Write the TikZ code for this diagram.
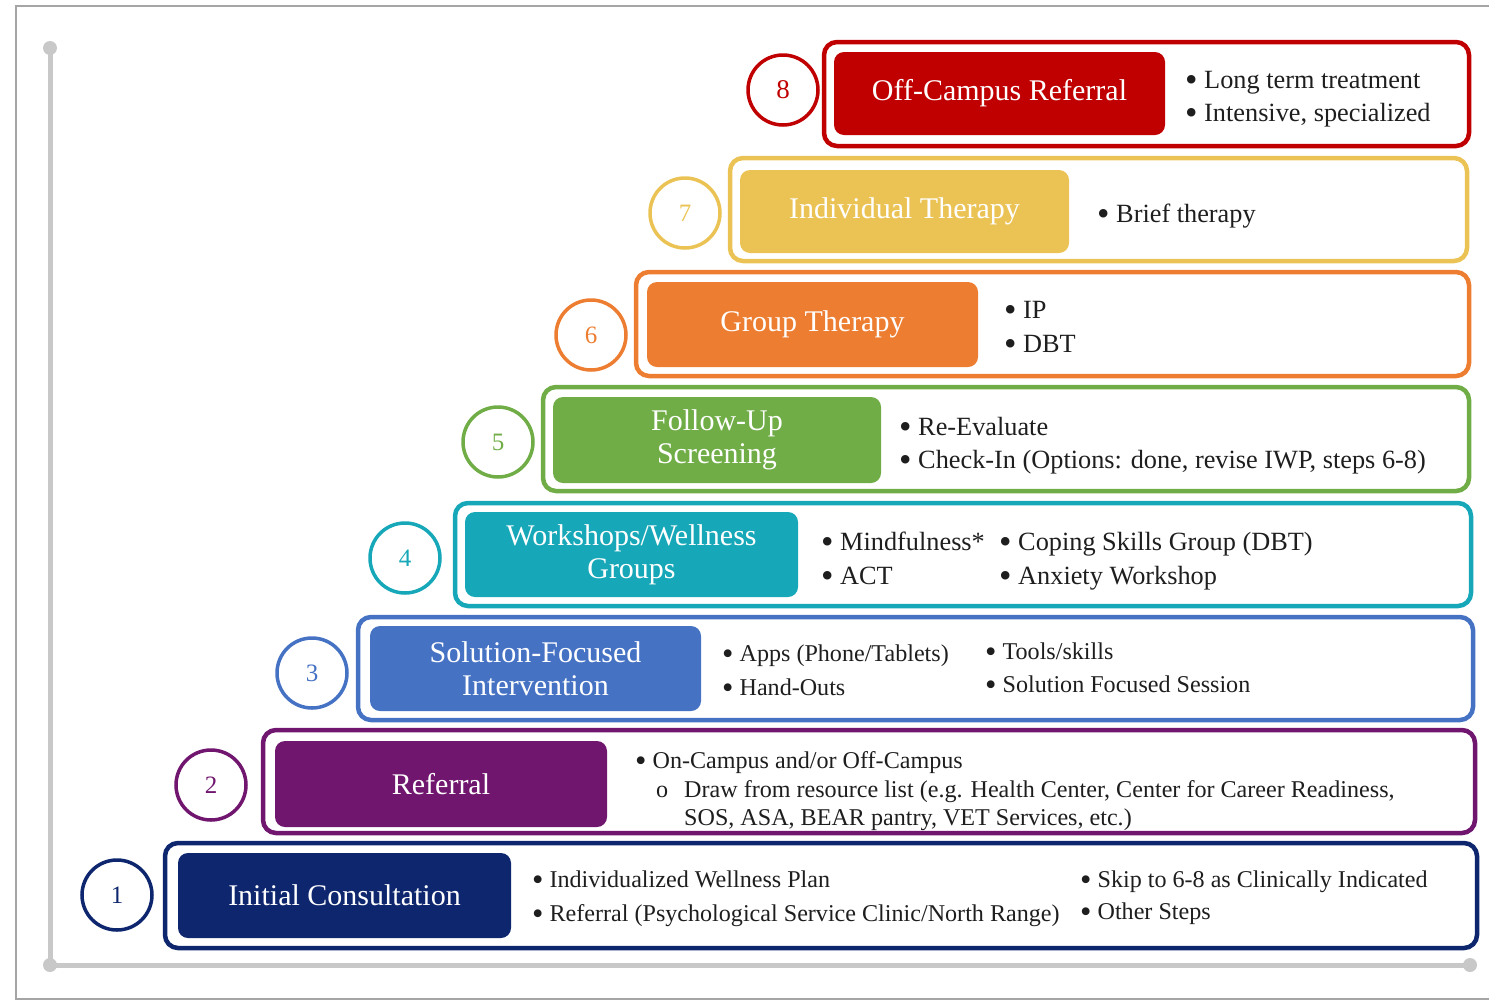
\documentclass[tikz,border=0pt]{standalone}
\usepackage{fontspec}
\setmainfont{Liberation Serif}
\usetikzlibrary{fit}
\definecolor{cnavy}{RGB}{14,38,110}
\definecolor{cpurple}{RGB}{112,22,110}
\definecolor{cblue}{RGB}{70,114,196}
\definecolor{cteal}{RGB}{22,168,184}
\definecolor{cgreen}{RGB}{112,173,71}
\definecolor{corange}{RGB}{237,125,49}
\definecolor{cyellow}{RGB}{235,195,85}
\definecolor{cred}{RGB}{192,0,0}
\definecolor{caxis}{RGB}{200,200,200}
\definecolor{cframe}{RGB}{165,165,165}
\definecolor{ctext}{RGB}{30,30,30}
\newcommand{\bul}{\raisebox{-0.13em}{\scalebox{1.35}{\textbullet}}\ }
\tikzset{
 outerbox/.style={draw=#1, line width=4.5pt, rounded corners=13pt, inner sep=0pt},
 titlebox/.style={fill=#1, rounded corners=10pt, text=white, align=center, font=\fontsize{30}{33}\selectfont, inner sep=0pt},
 numcircle/.style={draw=#1, circle, line width=3.5pt, minimum size=70pt, inner sep=0pt, text=#1, font=\fontsize{25}{25}\selectfont},
 bulletA/.style={anchor=west, inner sep=0pt, text=ctext, text height=17pt, text depth=0pt, font=\fontsize{24.1}{26}\selectfont},
 bulletB/.style={anchor=west, inner sep=0pt, text=ctext, text height=18pt, text depth=0pt, font=\fontsize{26.3}{28}\selectfont},
 axisdot/.style={circle, fill=caxis, minimum size=14pt, inner sep=0pt},
}
\begin{document}
\begin{tikzpicture}[x=1pt,y=-1pt]
\useasboundingbox (0,0) rectangle (1489,1002);
% frame
\draw[cframe, line width=1.5pt] (1489,6) -- (16,6) -- (16,999) -- (1489,999);
% axis
\coordinate (atop) at (50,48);
\coordinate (aorig) at (50,965);
\coordinate (aright) at (1470,965);
\draw[caxis, line width=5pt] (atop) -- (aorig) -- (aright);
\node[axisdot] (dtop) at (atop) {};
\node[axisdot] (dorig) at (aorig) {};
\node[axisdot] (dright) at (aright) {};

% Row 1
\node[outerbox=cnavy, fit={(165,843) (1477,948)}] (o1) {};
\node[numcircle=cnavy] (n1) at (117,895) {1};
\node[titlebox=cnavy, minimum width=333pt, minimum height=85pt] (t1) at (344.5,895.5) {Initial Consultation};
\node[bulletA] (b11) at (532,879) {\bul Individualized Wellness Plan};
\node[bulletA] (b12) at (532,913) {\bul Referral (Psychological Service Clinic/North Range)};
\node[bulletA] (b13) at (1080,879) {\bul Skip to 6-8 as Clinically Indicated};
\node[bulletA] (b14) at (1080,911) {\bul Other Steps};

% Row 2
\node[outerbox=cpurple, fit={(263,730) (1475,833)}] (o2) {};
\node[numcircle=cpurple] (n2) at (211,785) {2};
\node[titlebox=cpurple, minimum width=332pt, minimum height=86pt] (t2) at (441,784) {Referral};
\node[bulletA] (b21) at (635,760) {\bul On-Campus and/or Off-Campus};
\node[bulletA] (b22o) at (656,789) {o};
\node[bulletA] (b22) at (684,789) {Draw from resource list (e.g. Health Center, Center for Career Readiness,};
\node[bulletA] (b23) at (684,817) {SOS, ASA, BEAR pantry, VET Services, etc.)};

% Row 3
\node[outerbox=cblue, fit={(358,617) (1473,720)}] (o3) {};
\node[numcircle=cblue] (n3) at (312,673) {3};
\node[titlebox=cblue, minimum width=331pt, minimum height=85pt] (t3) at (535.5,668.5) {Solution-Focused\\Intervention};
\node[bulletA] (b31) at (722,653) {\bul Apps (Phone/Tablets)};
\node[bulletA] (b32) at (722,687) {\bul Hand-Outs};
\node[bulletA] (b33) at (985,651) {\bul Tools/skills};
\node[bulletA] (b34) at (985,684) {\bul Solution Focused Session};

% Row 4
\node[outerbox=cteal, fit={(455,503) (1471,606)}] (o4) {};
\node[numcircle=cteal] (n4) at (405,558) {4};
\node[titlebox=cteal, minimum width=333pt, minimum height=85pt] (t4) at (631.5,554.5) {Workshops/Wellness\\Groups};
\node[bulletB] (b41) at (821,541) {\bul Mindfulness*};
\node[bulletB] (b42) at (821,575) {\bul ACT};
\node[bulletB] (b43) at (999,541) {\bul Coping Skills Group (DBT)};
\node[bulletB] (b44) at (999,575) {\bul Anxiety Workshop};

% Row 5
\node[outerbox=cgreen, fit={(543,387) (1469,491)}] (o5) {};
\node[numcircle=cgreen] (n5) at (498,442) {5};
\node[titlebox=cgreen, minimum width=328pt, minimum height=86pt] (t5) at (717,440) {Follow-Up\\Screening};
\node[bulletB] (b51) at (899,426) {\bul Re-Evaluate};
\node[bulletB] (b52) at (899,459) {\bul Check-In (Options: done, revise IWP, steps 6-8)};

% Row 6
\node[outerbox=corange, fit={(636,272) (1469,376)}] (o6) {};
\node[numcircle=corange] (n6) at (591,335) {6};
\node[titlebox=corange, minimum width=331pt, minimum height=85pt] (t6) at (812.5,324.5) {Group Therapy};
\node[bulletB] (b61) at (1004,309) {\bul IP};
\node[bulletB] (b62) at (1004,343) {\bul DBT};

% Row 7
\node[outerbox=cyellow, fit={(730,158) (1467,261)}] (o7) {};
\node[numcircle=cyellow] (n7) at (685,213) {7};
\node[titlebox=cyellow, minimum width=329pt, minimum height=83pt] (t7) at (904.5,211.5) {Individual Therapy};
\node[bulletB] (b71) at (1097,213) {\bul Brief therapy};

% Row 8
\node[outerbox=cred, fit={(824,42) (1469,146)}] (o8) {};
\node[numcircle=cred, font=\fontsize{27}{27}\selectfont] (n8) at (783,90) {8};
\node[titlebox=cred, minimum width=331pt, minimum height=83pt] (t8) at (999.5,93.5) {Off-Campus Referral};
\node[bulletB] (b81) at (1185,79) {\bul Long term treatment};
\node[bulletB] (b82) at (1185,112) {\bul Intensive, specialized};
\end{tikzpicture}
\end{document}
